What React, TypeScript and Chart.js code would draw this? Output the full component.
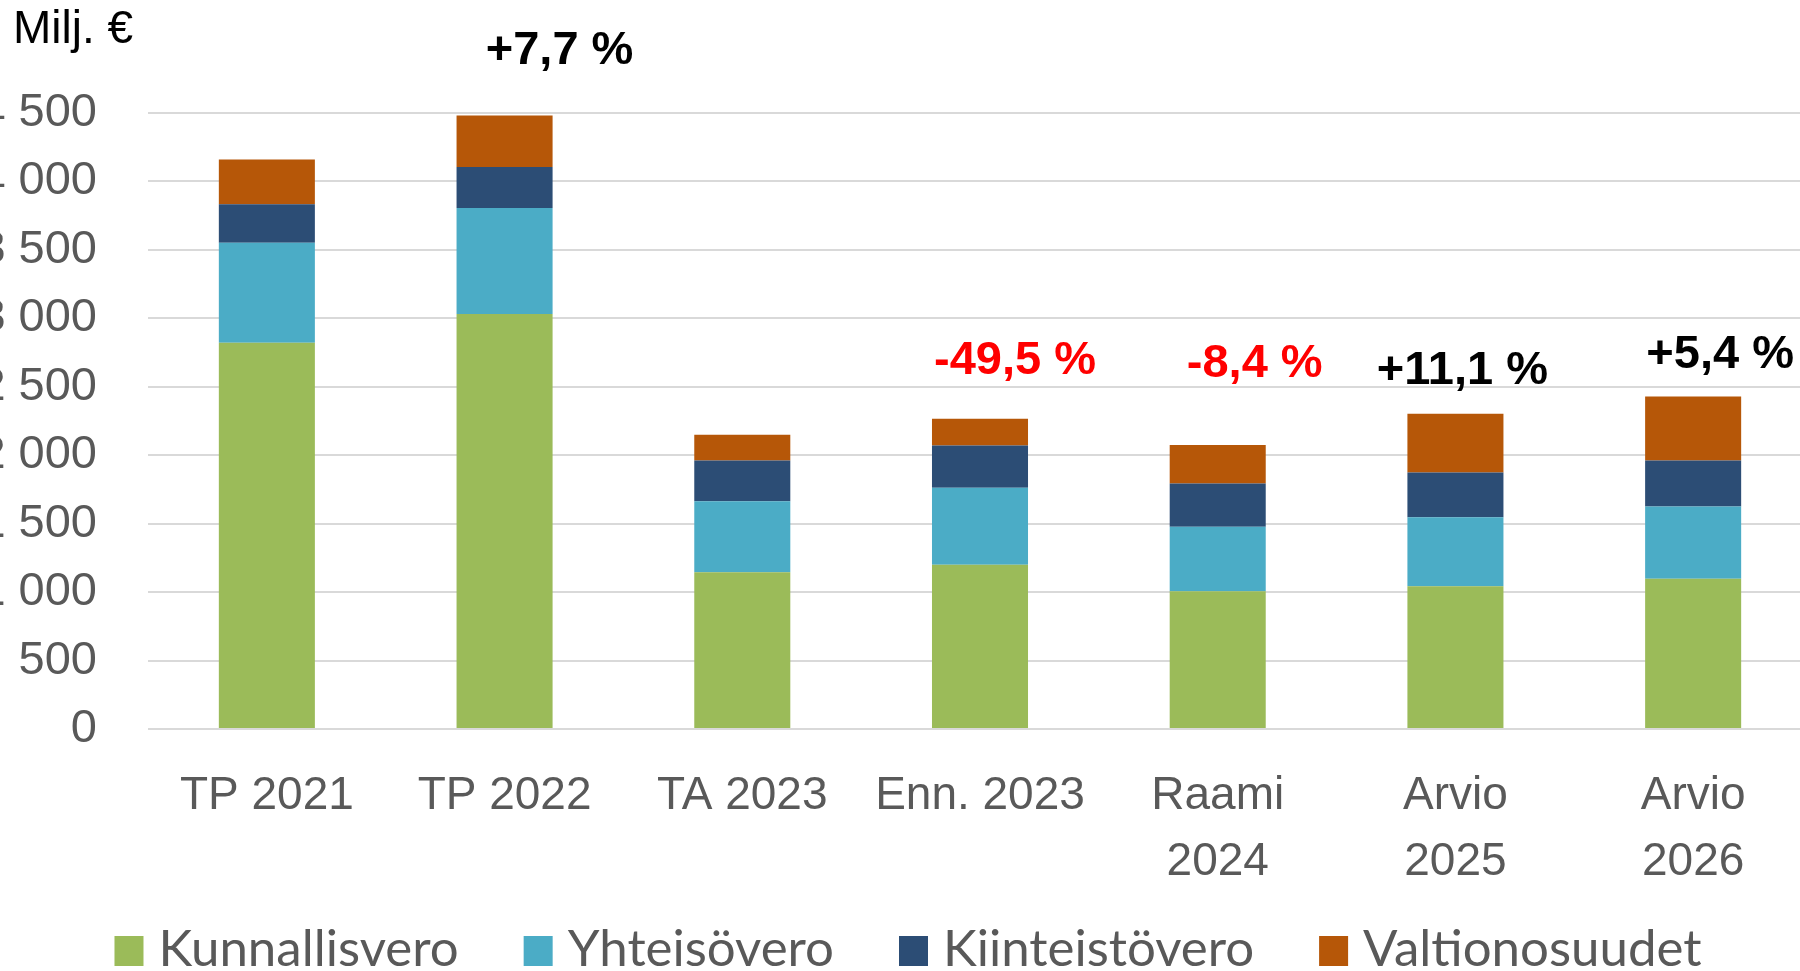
import { useEffect, useRef } from "react";
import { Chart, registerables } from "chart.js";

Chart.register(...registerables);

// ---- data ----
const categories: (string | string[])[] = [
  "TP 2021",
  "TP 2022",
  "TA 2023",
  "Enn. 2023",
  ["Raami", "2024"],
  ["Arvio", "2025"],
  ["Arvio", "2026"],
];
const kunnallisvero = [2822, 3031, 1145, 1199, 1006, 1043, 1097];
const yhteisovero = [731, 775, 519, 563, 471, 503, 528];
const kiinteistovero = [280, 300, 297, 309, 316, 328, 336];
const valtionosuudet = [327, 375, 188, 195, 281, 429, 468];
const changeLabels = ["", "+7,7 %", "", "-49,5 %", "-8,4 %", "+11,1 %", "+5,4 %"];
const yTickValues = [0, 500, 1000, 1500, 2000, 2500, 3000, 3500, 4000, 4500];
const unitLabel = "Milj. €";

// ---- styling / placement (not data) ----
const CANVAS_SHIFT = 60; // canvas starts 60px left of the page (left labels clipped)
const CANVAS_W = 1960;
const CANVAS_H = 971;
const SANS = "'Liberation Sans', Arial, sans-serif";
const changeStyle = [
  null,
  { dx: 55, gap: 52, color: "#000000" },
  null,
  { dx: 35, gap: 45, color: "#ff0000" },
  { dx: 37, gap: 68, color: "#ff0000" },
  { dx: 7, gap: 30, color: "#000000" },
  { dx: 27, gap: 28, color: "#000000" },
];

function fmt(v: number): string {
  if (v >= 1000) {
    const th = Math.floor(v / 1000);
    const rest = String(v % 1000).padStart(3, "0");
    return th + " " + rest;
  }
  return String(v);
}

const overlayPlugin = {
  id: "overlay",
  afterDatasetsDraw(chart: any) {
    const ctx = chart.ctx;
    const xs = chart.scales.x;
    const ys = chart.scales.y;
    ctx.save();
    // change percentages
    ctx.font = "bold 47px " + SANS;
    ctx.textAlign = "center";
    ctx.textBaseline = "alphabetic";
    changeLabels.forEach((txt, i) => {
      const st = changeStyle[i];
      if (!txt || !st) return;
      let total = 0;
      chart.data.datasets.forEach((ds: any) => (total += ds.data[i]));
      const x = xs.getPixelForValue(i) + st.dx;
      const y = ys.getPixelForValue(total) - st.gap;
      ctx.fillStyle = st.color;
      ctx.fillText(txt, x, y);
    });
    // unit label
    ctx.font = "46px " + SANS;
    ctx.textAlign = "left";
    ctx.fillStyle = "#000000";
    ctx.fillText(unitLabel, CANVAS_SHIFT + 13, 43);

    // legend
    ctx.font = "51px Lato, 'Open Sans', sans-serif";
    const boxW = 29;
    const boxH = 30;
    const gapBoxText = 15;
    const gapItems = 65;
    const items = chart.data.datasets.map((ds: any) => ({
      label: ds.label,
      color: ds.backgroundColor,
      w: ctx.measureText(ds.label).width,
    }));
    let total = 0;
    items.forEach((it: any, k: number) => {
      total += boxW + gapBoxText + it.w + (k < items.length - 1 ? gapItems : 0);
    });
    let x = CANVAS_SHIFT + 908 - total / 2;
    const baseline = 966;
    items.forEach((it: any) => {
      ctx.fillStyle = it.color;
      ctx.fillRect(x, baseline - boxH, boxW, boxH);
      x += boxW + gapBoxText;
      ctx.fillStyle = "#595959";
      ctx.fillText(it.label, x, baseline);
      x += it.w + gapItems;
    });
    ctx.restore();
  },
};

export default function App() {
  const ref = useRef<HTMLCanvasElement | null>(null);
  useEffect(() => {
    if (!ref.current) return;
    const chart = new Chart(ref.current, {
      type: "bar",
      data: {
        labels: categories,
        datasets: [
          { label: "Kunnallisvero", data: kunnallisvero, backgroundColor: "#9BBB59" },
          { label: "Yhteisövero", data: yhteisovero, backgroundColor: "#4BACC6" },
          { label: "Kiinteistövero", data: kiinteistovero, backgroundColor: "#2C4D75" },
          { label: "Valtionosuudet", data: valtionosuudet, backgroundColor: "#B65708" },
        ],
      },
      options: {
        responsive: false,
        animation: false,
        layout: { padding: { left: 0, right: CANVAS_W - (1812 + CANVAS_SHIFT), top: 113, bottom: 0 } },
        plugins: {
          legend: { display: false },
          tooltip: { enabled: false },
        },
        datasets: {
          bar: { categoryPercentage: 1, barPercentage: 0.404 },
        },
        scales: {
          x: {
            stacked: true,
            grid: { display: false },
            border: { display: false },
            ticks: {
              color: "#595959",
              font: { family: SANS, size: 46, lineHeight: 66 / 46 },
              padding: 26,
              maxRotation: 0,
              autoSkip: false,
            },
            afterFit(scale: any) {
              scale.height = 242;
            },
          },
          y: {
            stacked: true,
            min: 0,
            max: 4500,
            afterBuildTicks(scale: any) {
              scale.ticks = yTickValues.map((v) => ({ value: v }));
            },
            grid: { color: "#d9d9d9", lineWidth: 2, drawTicks: false },
            border: { display: false },
            ticks: {
              color: "#595959",
              font: { family: SANS, size: 47 },
              padding: 51,
              callback: (v: any) => fmt(Number(v)),
            },
            afterFit(scale: any) {
              scale.width = 148 + CANVAS_SHIFT;
            },
          },
        },
      },
      plugins: [overlayPlugin],
    });
    return () => chart.destroy();
  }, []);
  return (
    <div
      style={{
        position: "absolute",
        left: 0,
        top: 0,
        width: 1800,
        height: 971,
        overflow: "hidden",
        background: "#ffffff",
      }}
    >
      <canvas
        ref={ref}
        width={CANVAS_W}
        height={CANVAS_H}
        style={{ position: "absolute", left: -CANVAS_SHIFT, top: 0, width: CANVAS_W, height: CANVAS_H }}
      />
    </div>
  );
}
